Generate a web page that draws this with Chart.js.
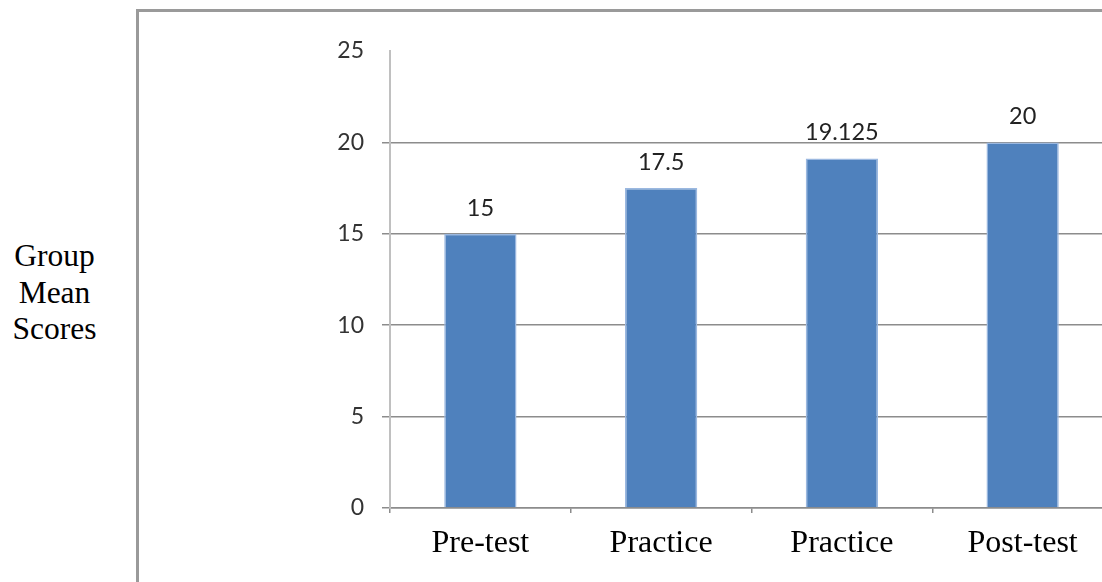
<!DOCTYPE html>
<html>
<head>
<meta charset="utf-8">
<script src="https://cdn.jsdelivr.net/npm/chart.js@4/dist/chart.umd.min.js"></script>
<style>
  html, body { margin: 0; padding: 0; background: #fff; overflow: hidden; width: 1102px; height: 582px; }
  #frame {
    position: absolute; left: 136px; top: 9px; width: 1000px; height: 600px;
    border-top: 3px solid #9a9a9a; border-left: 3px solid #9a9a9a;
  }
  #ytitle {
    position: absolute; left: 0; top: 238px; width: 109px;
    font: 31.5px "Liberation Serif", "Times New Roman", serif; line-height: 36.5px;
    text-align: center; color: #000;
  }
  #wrap { position: absolute; left: 0; top: 0; width: 1120px; height: 582px; }
</style>
</head>
<body>
<div id="frame"></div>
<div id="ytitle">Group<br>Mean<br>Scores</div>
<div id="wrap"><canvas id="chart" width="1120" height="582"></canvas></div>
<script>
// Phases of the study and the group's mean score in each
const categories = ["Pre-test", "Practice", "Practice", "Post-test"];
const meanScores = [15, 17.5, 19.125, 20];
const yTicks = [0, 5, 10, 15, 20, 25];
const yMax = 25;

// Writes each bar's value just above it
const valueLabels = {
  id: "valueLabels",
  afterDatasetsDraw(chart) {
    const ctx = chart.ctx;
    const meta = chart.getDatasetMeta(0);
    ctx.save();
    ctx.font = '23.5px Lato, "Open Sans", sans-serif';
    ctx.fillStyle = "#222";
    ctx.textAlign = "center";
    ctx.textBaseline = "alphabetic";
    meta.data.forEach((bar, i) => {
      ctx.fillText(String(chart.data.datasets[0].data[i]), bar.x, bar.y - 18);
    });
    ctx.restore();
  }
};

// No gridline or tick mark at the top value of the scale
const gridAt = (c) => (c.tick && c.tick.value === yMax ? "rgba(0,0,0,0)" : "#8c8c8c");

new Chart(document.getElementById("chart"), {
  type: "bar",
  data: {
    labels: categories,
    datasets: [{
      data: meanScores,
      backgroundColor: "#4f81bd",
      borderColor: "#9bb8e0",
      borderWidth: 1.5,
      categoryPercentage: 1,
      barPercentage: 0.4
    }]
  },
  options: {
    responsive: false,
    animation: false,
    layout: { padding: { left: 0, top: 51, right: 7, bottom: 0 } },
    plugins: { legend: { display: false }, tooltip: { enabled: false } },
    scales: {
      x: {
        offset: true,
        grid: { display: true, drawOnChartArea: false, tickLength: 5, color: "#8c8c8c", lineWidth: 1.5 },
        border: { display: true, color: "#8c8c8c", width: 1.5 },
        ticks: {
          padding: 11,
          color: "#000",
          font: { family: '"Liberation Serif", "Times New Roman", serif', size: 32 }
        },
        afterFit(scale) { scale.height = 74; }
      },
      y: {
        min: 0,
        max: yMax,
        afterBuildTicks(scale) { scale.ticks = yTicks.map(v => ({ value: v })); },
        grid: { color: gridAt, lineWidth: 1.5, tickLength: 8, tickColor: gridAt },
        border: { display: true, color: "#c0c0c0", width: 2 },
        ticks: {
          padding: 18,
          color: "#333",
          font: { family: 'Lato, "Open Sans", sans-serif', size: 23 }
        },
        afterFit(scale) { scale.width = 390; }
      }
    }
  },
  plugins: [valueLabels]
});
</script>
</body>
</html>
